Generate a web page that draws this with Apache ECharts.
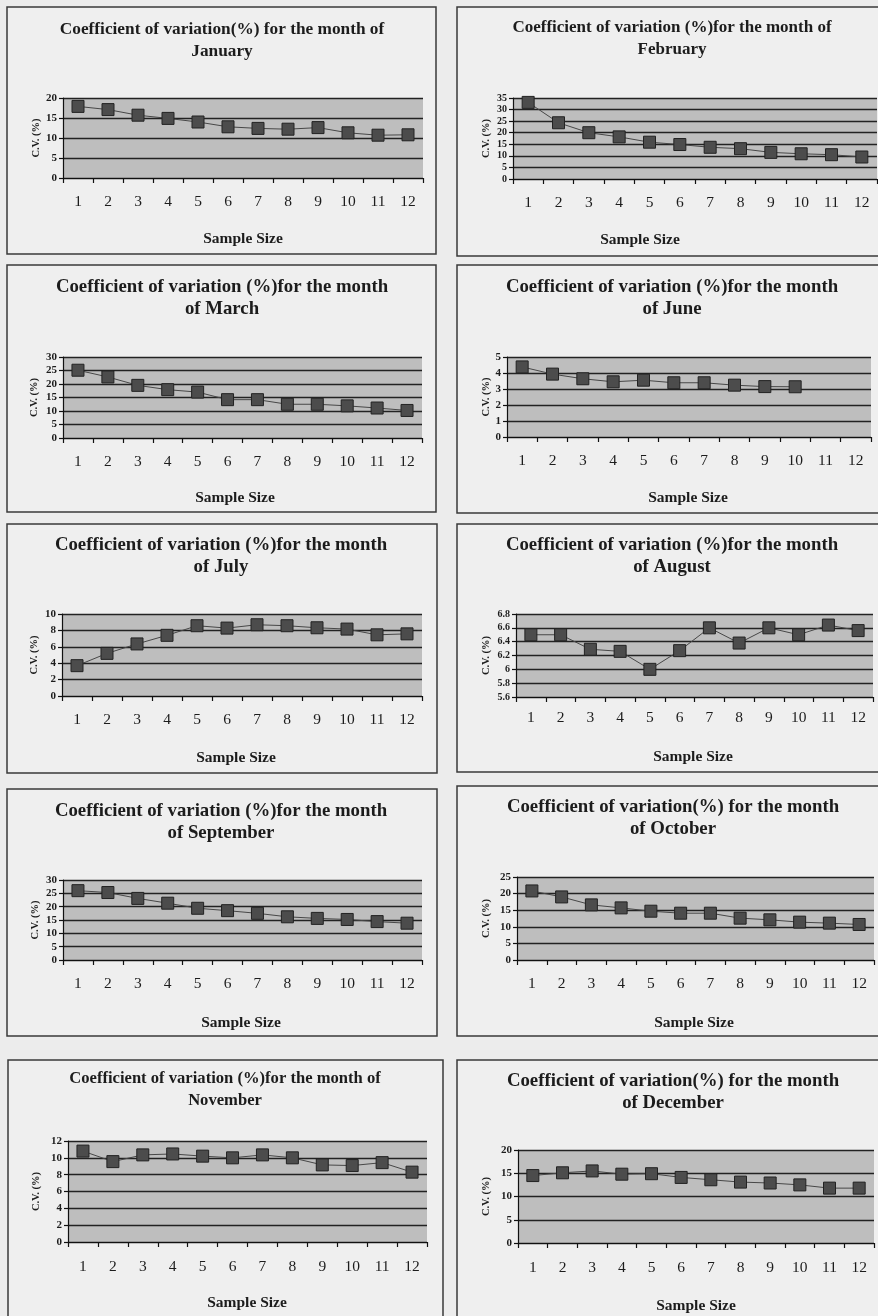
<!DOCTYPE html>
<html>
<head>
<meta charset="utf-8">
<script src="https://cdn.jsdelivr.net/npm/echarts@6/dist/echarts.min.js"></script>
<style>
html,body{margin:0;padding:0;background:#ececec;}
#c{width:878px;height:1316px;}
</style>
</head>
<body>
<div id="c"></div>
<script>
// ---------------- DATA ----------------
const sampleSizes = ['1','2','3','4','5','6','7','8','9','10','11','12'];

const titles = [
  'Coefficient of variation(%) for the month of\nJanuary',
  'Coefficient of variation (%)for the month of\nFebruary',
  'Coefficient of variation (%)for the month\nof March',
  'Coefficient of variation (%)for the month\nof June',
  'Coefficient of variation (%)for the month\nof July',
  'Coefficient of variation (%)for the month\nof August',
  'Coefficient of variation (%)for the month\nof September',
  'Coefficient of variation(%) for the month\nof October',
  'Coefficient of variation (%)for the month of\nNovember',
  'Coefficient of variation(%) for the month\nof December'
];
const xAxisTitle = 'Sample Size';
const yAxisTitle = 'C.V. (%)';

const cvJanuary   = [17.9, 17.1, 15.7, 14.9, 14.0, 12.8, 12.4, 12.2, 12.6, 11.3, 10.7, 10.8];
const cvFebruary  = [33.1, 24.3, 20.0, 18.2, 15.9, 14.9, 13.7, 13.1, 11.5, 10.9, 10.5, 9.5];
const cvMarch     = [25.1, 22.6, 19.5, 17.9, 17.0, 14.2, 14.2, 12.5, 12.5, 11.9, 11.1, 10.2];
const cvJune      = [4.38, 3.93, 3.64, 3.45, 3.55, 3.39, 3.39, 3.24, 3.15, 3.14];
const cvJuly      = [3.7, 5.2, 6.35, 7.4, 8.57, 8.28, 8.69, 8.57, 8.32, 8.16, 7.46, 7.58];
const cvAugust    = [6.50, 6.50, 6.29, 6.26, 6.00, 6.27, 6.60, 6.38, 6.60, 6.50, 6.64, 6.56];
const cvSeptember = [26.0, 25.3, 23.1, 21.3, 19.4, 18.5, 17.5, 16.2, 15.6, 15.2, 14.4, 13.8];
const cvOctober   = [20.8, 19.0, 16.6, 15.7, 14.7, 14.1, 14.1, 12.6, 12.1, 11.4, 11.1, 10.7];
const cvNovember  = [10.8, 9.55, 10.35, 10.46, 10.2, 10.0, 10.35, 10.0, 9.16, 9.08, 9.43, 8.3];
const cvDecember  = [14.5, 15.1, 15.5, 14.8, 14.9, 14.1, 13.6, 13.1, 12.9, 12.5, 11.8, 11.8];

const yMin      = [0, 0, 0, 0, 0, 5.6, 0, 0, 0, 0];
const yMax      = [20, 35, 30, 5, 10, 6.8, 30, 25, 12, 20];
const yInterval = [5, 5, 5, 1, 2, 0.2, 5, 5, 2, 5];

const seriesData = [cvJanuary, cvFebruary, cvMarch, cvJune, cvJuly, cvAugust,
                    cvSeptember, cvOctober, cvNovember, cvDecember];

// ---------------- LAYOUT (positions / styles only) ----------------
const layout = [
  {box:[7,7,429,247],   grid:[63,98,360,80],    title:[222,19,17.3],   ss:[243,239],  gap:19, yf:11, xm:16},
  {box:[457,7,440,249], grid:[513,98,364,81],   title:[672,17,17],     ss:[640,240],  gap:21, yf:10, xm:16},
  {box:[7,265,429,247], grid:[63,357,359,81],   title:[222,276,18.8],  ss:[235,498],  gap:23, yf:11, xm:16},
  {box:[457,265,440,248],grid:[507,357,364,80], title:[672,276,18.8],  ss:[688,498],  gap:15, yf:11, xm:16},
  {box:[7,524,430,249], grid:[62,614,360,82],   title:[221,534,18.8],  ss:[236,758],  gap:22, yf:11, xm:16},
  {box:[457,524,440,248],grid:[516,614,357,83], title:[672,534,18.8],  ss:[693,757],  gap:24, yf:10, xm:13},
  {box:[7,789,430,247], grid:[63,880,359,80],   title:[221,800,18.8],  ss:[241,1023], gap:22, yf:11, xm:16},
  {box:[457,786,440,250],grid:[517,877,357,83], title:[673,796,18.8],  ss:[694,1023], gap:25, yf:11, xm:16},
  {box:[8,1060,435,300],grid:[68,1141,359,101], title:[225,1068,16.6], ss:[247,1303], gap:26, yf:11, xm:17},
  {box:[457,1060,440,300],grid:[518,1150,356,93],title:[673,1070,18.8],ss:[696,1306], gap:26, yf:11, xm:17}
];

const FONT = '"Liberation Serif", "Times New Roman", serif';
const INK = '#1c1c1c';

const option = {
  backgroundColor: '#ececec',
  animation: false,
  title: [],
  grid: [],
  xAxis: [],
  yAxis: [],
  series: [],
  graphic: []
};

layout.forEach((L, i) => {
  option.graphic.push({
    type: 'rect', z: -10, silent: true,
    shape: {x: L.box[0], y: L.box[1], width: L.box[2], height: L.box[3]},
    style: {fill: '#efefef', stroke: '#3a3a3a', lineWidth: 1.5}
  });
  option.title.push({
    text: titles[i], left: L.title[0], top: L.title[1], textAlign: 'center', padding: 0,
    textStyle: {fontFamily: FONT, fontWeight: 'bold', fontSize: L.title[2], lineHeight: 22, color: INK}
  });
  option.title.push({
    text: xAxisTitle, left: L.ss[0], top: L.ss[1] - 9, textAlign: 'center', padding: 0,
    textStyle: {fontFamily: FONT, fontWeight: 'bold', fontSize: 15.5, lineHeight: 18, color: INK}
  });
  option.grid.push({
    left: L.grid[0], top: L.grid[1], width: L.grid[2], height: L.grid[3],
    show: true, backgroundColor: '#bebebe', borderWidth: 0, containLabel: false
  });
  option.xAxis.push({
    type: 'category', gridIndex: i, data: sampleSizes, boundaryGap: true,
    axisLine: {show: true, lineStyle: {color: '#111', width: 1.2}},
    axisTick: {show: true, inside: false, length: 5, alignWithLabel: false, interval: 0, lineStyle: {color: '#111', width: 1.2}},
    axisLabel: {interval: 0, margin: L.xm, fontFamily: FONT, fontSize: 15.5, color: INK},
    splitLine: {show: false}
  });
  option.yAxis.push({
    type: 'value', gridIndex: i, min: yMin[i], max: yMax[i], interval: yInterval[i],
    name: yAxisTitle, nameLocation: 'middle', nameRotate: 90, nameGap: L.gap,
    nameTextStyle: {fontFamily: FONT, fontWeight: 'bold', fontSize: 10.5, color: INK},
    axisLine: {show: true, lineStyle: {color: '#111', width: 1.2}},
    axisTick: {show: true, inside: false, length: 4, lineStyle: {color: '#111', width: 1.2}},
    axisLabel: {margin: 6, fontFamily: FONT, fontWeight: 'bold', fontSize: L.yf, color: INK},
    splitLine: {show: true, lineStyle: {color: '#222', width: 1.4}}
  });
  option.series.push({
    type: 'line', xAxisIndex: i, yAxisIndex: i, data: seriesData[i],
    symbol: 'rect', symbolSize: 12,
    lineStyle: {color: '#474747', width: 1},
    itemStyle: {color: '#4c4c4c', borderColor: '#222', borderWidth: 1},
    emphasis: {disabled: true}
  });
});

const chart = echarts.init(document.getElementById('c'), null, {renderer: 'canvas', width: 878, height: 1316});
chart.setOption(option);
</script>
</body>
</html>
